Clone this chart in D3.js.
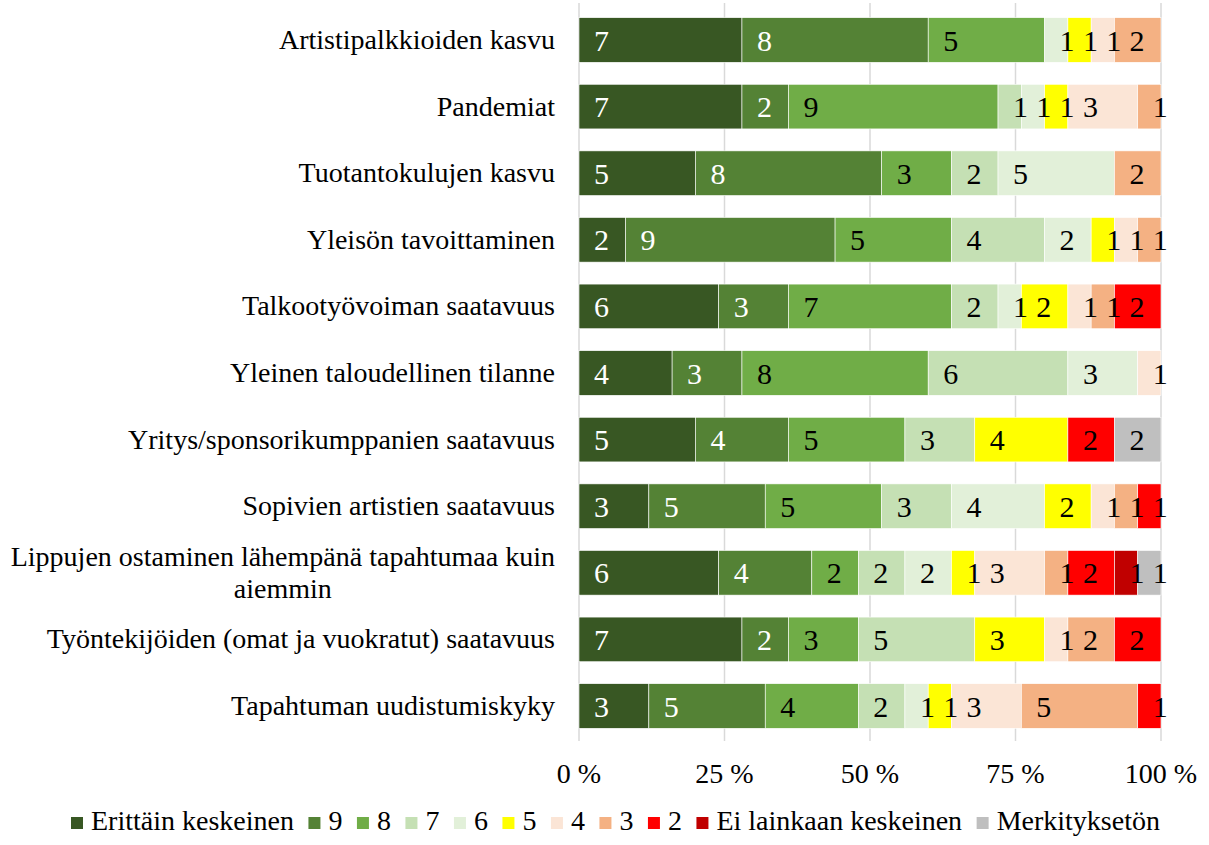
<!DOCTYPE html>
<html><head><meta charset="utf-8">
<script src="https://cdn.jsdelivr.net/npm/d3@7"></script>
<style>
html,body{margin:0;padding:0;background:#fff;}
svg text{font-family:'Liberation Serif','Times New Roman',Tinos,'DejaVu Serif',serif;}
</style></head>
<body><svg id="chart" width="1209" height="845"></svg>
<script>
const categories = [
  "Artistipalkkioiden kasvu",
  "Pandemiat",
  "Tuotantokulujen kasvu",
  "Yleisön tavoittaminen",
  "Talkootyövoiman saatavuus",
  "Yleinen taloudellinen tilanne",
  "Yritys/sponsorikumppanien saatavuus",
  "Sopivien artistien saatavuus",
  "Lippujen ostaminen lähempänä tapahtumaa kuin aiemmin",
  "Työntekijöiden (omat ja vuokratut) saatavuus",
  "Tapahtuman uudistumiskyky"
];
const seriesNames = ["Erittäin keskeinen","9","8","7","6","5","4","3","2","Ei lainkaan keskeinen","Merkityksetön"];
const s10   = [7,7,5,2,6,4,5,3,6,7,3];
const s9    = [8,2,8,9,3,3,4,5,4,2,5];
const s8    = [5,9,3,5,7,8,5,5,2,3,4];
const s7    = [0,1,2,4,2,6,3,3,2,5,2];
const s6    = [1,1,5,2,1,3,0,4,2,0,1];
const s5    = [1,1,0,1,2,0,4,2,1,3,1];
const s4    = [1,3,0,1,1,1,0,1,3,1,3];
const s3    = [2,1,2,1,1,0,0,1,1,2,5];
const s2    = [0,0,0,0,2,0,2,1,2,2,1];
const sEi   = [0,0,0,0,0,0,0,0,1,0,0];
const sMerk = [0,0,0,0,0,0,2,0,1,0,0];
const tickValues = [0,0.25,0.5,0.75,1];
const tickLabels = ["0 %","25 %","50 %","75 %","100 %"];

const seriesValues = [s10,s9,s8,s7,s6,s5,s4,s3,s2,sEi,sMerk];
const colors = ["#385723","#548235","#70ad47","#c5e0b4","#e2f0d9","#ffff00","#fbe5d6","#f4b183","#ff0000","#c00000","#bfbfbf"];
const labelColors = ["#fff","#fff","#000","#000","#000","#000","#000","#000","#000","#000","#000"];
const FONT = "'Liberation Serif','Times New Roman',Tinos,'DejaVu Serif',serif";

const rows = categories.map((c,i)=>{
  const o = {cat:c};
  seriesNames.forEach((s,j)=>o[s]=seriesValues[j][i]);
  return o;
});
const stacked = d3.stack().keys(seriesNames).offset(d3.stackOffsetExpand)(rows);

const svg = d3.select("#chart").attr("font-family",FONT);
const x = d3.scaleLinear().domain([0,1]).range([579,1161]);
const y = d3.scaleBand().domain(categories).range([6.7,739.3]).paddingInner(0.33).paddingOuter(0.165);
const FS = 28;

// gridlines
svg.append("g").selectAll("line").data(tickValues).join("line")
  .attr("x1",d=>x(d)).attr("x2",d=>x(d))
  .attr("y1",3).attr("y2",741)
  .attr("stroke","#d9d9d9").attr("stroke-width",1.5);

// bars
const g = svg.append("g");
stacked.forEach((layer,j)=>{
  g.append("g").selectAll("rect").data(layer.filter(d=>d[1]-d[0]>0)).join("rect")
    .attr("x",d=>x(d[0])).attr("width",d=>x(d[1])-x(d[0]))
    .attr("y",d=>y(d.data.cat)).attr("height",y.bandwidth())
    .attr("fill",colors[j]).attr("stroke","#ffffff").attr("stroke-width",0.6);
});
// labels
stacked.forEach((layer,j)=>{
  g.append("g").selectAll("text").data(layer.filter(d=>d.data[layer.key]>0)).join("text")
    .attr("font-family",FONT)
    .attr("x",d=>x(d[0])+22.5)
    .attr("y",d=>y(d.data.cat)+y.bandwidth()/2+10.5)
    .attr("text-anchor","middle")
    .attr("font-size",30)
    .attr("fill",labelColors[j])
    .text(d=>d.data[layer.key]);
});

// category labels
const cl = svg.append("g");
categories.forEach(c=>{
  const cy = y(c)+y.bandwidth()/2;
  const t = cl.append("text").attr("font-family",FONT).attr("font-size",FS).attr("fill","#000");
  if(c.startsWith("Lippujen")){
    t.attr("text-anchor","middle");
    const l1 = "Lippujen ostaminen lähempänä tapahtumaa kuin";
    const tmp = cl.append("text").attr("font-family",FONT).attr("font-size",FS).text(l1);
    const w = tmp.node().getComputedTextLength(); tmp.remove();
    const cx = 555 - w/2;
    t.append("tspan").attr("x",cx).attr("y",cy-16+9).text(l1);
    t.append("tspan").attr("x",cx).attr("y",cy+16+9).text("aiemmin");
  } else {
    t.attr("text-anchor","end").attr("x",555).attr("y",cy+9).text(c);
  }
});

// x tick labels
svg.append("g").selectAll("text").data(tickValues).join("text")
  .attr("font-family",FONT)
  .attr("x",d=>x(d)).attr("y",783)
  .attr("text-anchor","middle").attr("font-size",FS)
  .text((d,i)=>tickLabels[i]);

// legend
const leg = svg.append("g");
let lx = 71;
seriesNames.forEach((s,j)=>{
  leg.append("rect").attr("x",lx).attr("y",817).attr("width",12).attr("height",12).attr("fill",colors[j]);
  const t = leg.append("text").attr("font-family",FONT).attr("x",lx+20).attr("y",830).attr("font-size",FS).text(s);
  lx += 20 + t.node().getComputedTextLength() + 14.5;
});
</script></body></html>
